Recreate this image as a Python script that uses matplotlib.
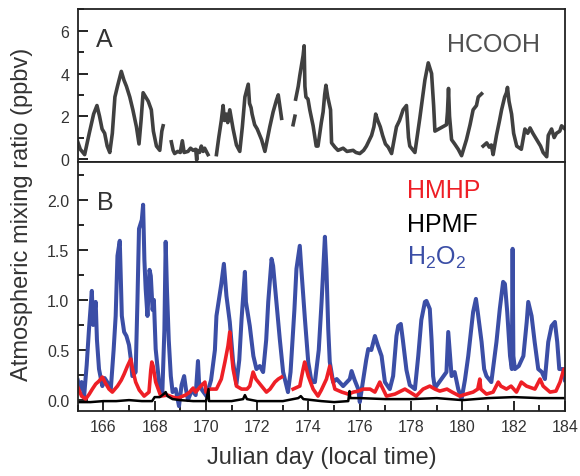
import numpy as np
import matplotlib
matplotlib.use("Agg")
import matplotlib.pyplot as plt
from matplotlib.ticker import MultipleLocator

nan = np.nan

# ---- panel A: HCOOH (ppbv), NaN = data gap ----
hcooh_day = [165.0, 165.1, 165.27, 165.45, 165.62, 165.75, 165.85, 165.95, 166.05, 166.15,
             166.25, 166.35, 166.45, 166.55, 166.7, 166.8, 166.9, 167.03, 167.15, 167.29,
             167.39, 167.47, 167.55, 167.65, 167.75, 167.87, 167.95, 168.07, 168.2, 168.28,
             168.33, nan,
             168.65, 168.72, 168.78, 168.9, 169.0, 169.08, 169.15, 169.3, 169.4, 169.5,
             169.6, 169.64, 169.66, 169.75, 169.82, 169.89, 169.95, 170.08, nan,
             170.41, 170.5, 170.6, 170.67, 170.72, 170.8, 170.85, 170.93, 171.0, 171.06,
             171.19, 171.32, 171.42, 171.52, 171.65, 171.7, 171.76, 171.8, 171.9, 172.0,
             172.17, 172.3, 172.49, 172.62, 172.75, 172.82, 172.9, 172.95, nan,
             173.4, 173.47, nan,
             173.5, 173.6, 173.66, 173.79, 173.83, 173.86, 173.9, 173.98, 174.05, 174.18,
             174.3, 174.37, 174.5, 174.57, 174.63, 174.68, 174.75, 174.86, 174.9, 175.03,
             175.15, 175.35, 175.5, 175.74, 175.85, 176.0, 176.15, 176.26, 176.46, 176.55,
             176.62, 176.7, 176.8, 176.89, 177.0, 177.11, 177.24, 177.43, 177.55, 177.69,
             177.82, 177.9, 177.95, 178.15, 178.34, 178.45, 178.54, 178.67, 178.8, 178.88,
             178.93, 179.38, 179.42, 179.46, 179.5, 179.58, 179.7, 179.84, 179.97, 180.16,
             180.3, 180.42, 180.55, 180.62, 180.75, nan,
             180.81, 180.95, 181.05, 181.13, 181.2, 181.33, 181.45, 181.53, 181.65, 181.72,
             181.76, 181.82, 181.92, 182.0, 182.12, 182.3, 182.44, 182.55, 182.64, 182.75,
             182.9, 183.05, 183.15, 183.29, 183.35, 183.48, 183.58, 183.67, 183.8, 183.87,
             184.0]
hcooh_val = [0.8, 0.45, 0.2, 1.2, 2.1, 2.5, 2.0, 1.4, 1.2, 0.6,
             0.3, 1.2, 2.9, 3.4, 4.1, 3.7, 3.4, 2.9, 2.3, 1.5,
             0.7, 1.8, 3.1, 2.9, 2.7, 2.3, 1.3, 0.6, 0.4, 1.3,
             1.55, nan,
             0.8, 0.4, 0.25, 0.35, 0.3, 0.85, 0.3, 0.35, 0.5, 0.4,
             0.45, -0.05, 0.4, 0.3, 0.6, 0.35, 0.5, 0.2, nan,
             0.2, 1.0, 1.8, 2.5, 1.8, 2.1, 1.7, 2.3, 1.8, 1.4,
             0.65, 0.35, 1.5, 2.9, 3.5, 2.6, 2.4, 2.1, 1.6, 1.4,
             0.9, 0.35, 1.5, 2.2, 2.75, 3.0, 2.3, 1.9, nan,
             1.6, 2.0, nan,
             2.8, 3.4, 3.9, 4.85, 5.3, 3.4, 2.9, 2.8, 2.3, 1.55,
             0.6, 0.6, 1.7, 2.2, 3.0, 3.45, 2.9, 2.3, 0.75, 0.55,
             0.4, 0.5, 0.35, 0.4, 0.3, 0.25, 0.4, 0.6, 1.1, 1.5,
             2.1, 1.8, 1.5, 1.1, 0.7, 0.55, 0.25, 1.5, 1.8, 2.3,
             2.5, 1.0, 0.6, 0.3, 1.9, 2.9, 3.7, 4.5, 4.0, 2.5,
             1.3, 1.6, 2.2, 3.3, 2.0, 0.9, 0.7, 0.45, 0.15, 0.9,
             1.6, 2.3, 2.5, 2.9, 3.05, nan,
             0.6, 0.75, 0.55, 0.65, 0.2, 1.1, 1.8, 2.3, 2.9, 3.1,
             3.35, 2.7, 2.1, 1.2, 0.6, 0.45, 1.4, 1.2, 1.45, 1.2,
             0.9, 0.6, 0.3, 0.1, 1.1, 1.4, 1.0, 1.2, 1.3, 1.55,
             1.4]

# ---- panel B: H2O2 (ppbv) ----
h2o2_day = [165.0, 165.08, 165.15, 165.25, 165.35, 165.44, 165.55, 165.6, 165.7, 165.75,
            165.83, 165.96, 166.05, 166.15, 166.29, 166.4, 166.48, 166.55, 166.64, 166.68,
            166.72, 166.81, 166.9, 167.0, 167.07, 167.13, 167.26, 167.33, 167.39, 167.5,
            167.55, 167.6, 167.65, 167.72, 167.8, 167.85, 167.92, 167.97, 168.04, 168.17,
            168.3, 168.38, 168.43, 168.48, 168.55, 168.63, 168.7, 168.82, 168.95, 169.05,
            169.15, 169.22, 169.3, 169.45, 169.6, 169.69, 169.73, 169.85, 170.02, 170.2,
            170.35, 170.41, 170.6, 170.7, 170.8, 170.93, 171.06, 171.19, 171.3, 171.39,
            171.52, 171.56, 171.71, 171.85, 171.97, 172.1, 172.23, 172.35, 172.43, 172.56,
            172.62, 172.75, 172.88, 173.01, 173.2, 173.3, 173.45, 173.53, 173.66, 173.72,
            173.86, 173.99, 174.12, 174.25, 174.4, 174.51, 174.64, 174.7, 174.77, 174.83,
            174.96, 175.1, 175.35, 175.5, 175.61, 175.68, 175.8, 175.94, 176.0, 176.1,
            176.25, 176.33, 176.45, 176.59, 176.7, 176.85, 176.98, 177.17, 177.3, 177.43,
            177.5, 177.6, 177.68, 177.82, 177.95, 178.15, 178.28, 178.4, 178.54, 178.6,
            178.73, 178.8, 178.86, 178.93, 179.38, 179.45, 179.5, 179.58, 179.7, 179.84,
            179.97, 180.1, 180.23, 180.42, 180.53, 180.6, 180.75, 180.85, 180.94, 181.13,
            181.33, 181.46, 181.59, 181.66, 181.75, 181.86, 181.93, 181.96, 181.99, 182.05,
            182.2, 182.38, 182.51, 182.57, 182.7, 182.82, 182.96, 183.1, 183.22, 183.35,
            183.48, 183.61, 183.7, 183.78, 183.93, 184.0]
h2o2_val = [0.2, 0.12, 0.18, 0.04, 0.35, 0.71, 1.09, 0.75, 0.98, 0.6,
            0.31, 0.14, 0.22, 0.18, 0.11, 0.5, 0.84, 1.44, 1.59, 1.2,
            0.84, 0.68, 0.64, 0.55, 0.41, 0.24, 0.28, 1.0, 1.71, 1.8,
            1.95, 1.4, 1.11, 0.84, 1.3, 1.24, 0.9, 1.0, 0.51, 0.18,
            0.08, 0.7, 1.58, 1.1, 0.6, 0.24, 0.08, 0.11, -0.06, 0.15,
            0.24, 0.11, 0.0, 0.1, 0.05, 0.39, 0.18, 0.1, 0.04, 0.2,
            0.5, 0.84, 1.16, 1.36, 1.04, 0.78, 0.38, 0.16, 0.4, 0.81,
            1.28, 0.98, 0.74, 0.44, 0.31, 0.34, 0.28, 0.6, 0.98, 1.41,
            1.34, 0.98, 0.61, 0.28, 0.08, 0.28, 0.9, 1.31, 1.54, 1.31,
            0.81, 0.38, 0.18, 0.18, 0.5, 0.98, 1.63, 1.31, 0.71, 0.38,
            0.18, 0.21, 0.14, 0.18, 0.21, 0.29, 0.2, 0.11, -0.02, 0.15,
            0.4, 0.51, 0.5, 0.64, 0.55, 0.44, 0.18, 0.11, 0.24, 0.64,
            0.74, 0.76, 0.6, 0.3, 0.15, 0.11, 0.44, 0.8, 0.98, 0.99,
            0.91, 0.6, 0.24, 0.12, 0.28, 0.68, 0.51, 0.24, 0.28, 0.11,
            0.01, 0.2, 0.44, 0.88, 1.01, 0.88, 0.58, 0.31, 0.24, 0.18,
            0.58, 0.91, 1.18, 1.16, 0.88, 0.44, 0.31, 1.51, 0.44, 0.31,
            0.34, 0.44, 0.78, 0.98, 0.84, 0.58, 0.31, 0.28, 0.21, 0.58,
            0.74, 0.78, 0.58, 0.31, 0.31, 0.2]

# ---- panel B: HMHP (ppbv) ----
hmhp_day = [165.0, 165.15, 165.31, 165.45, 165.57, 165.7, 165.83, 165.96, 166.08, 166.22,
            166.35, 166.55, 166.7, 166.81, 166.94, 167.07, 167.13, 167.26, 167.4, 167.59,
            167.78, 167.85, 167.89, 167.94, 168.04, 168.24, 168.5, 168.7, 168.9, 169.0,
            169.2, 169.37, 169.5, 169.6, 169.8, 169.96, 170.0, 170.15, 170.41, 170.6,
            170.74, 170.86, 170.93, 170.98, 171.06, 171.19, 171.39, 171.6, 171.71, 171.84,
            171.95, 172.17, 172.36, 172.5, 172.69, 172.82, 172.95, nan,
            173.4, 173.66, 173.79, 173.85, 173.99, 174.18, 174.37, 174.5, 174.7, 174.83,
            174.9, 175.03, 175.3, 175.55, 175.75, 175.94, 176.13, 176.4, 176.59, 176.78,
            176.85, 177.04, 177.37, 177.76, 177.95, 178.2, 178.47, 178.73, 178.93, 179.12,
            179.4, 179.6, 179.9, 180.15, 180.42, 180.6, 180.68, 180.72, 180.94, 181.2,
            181.4, 181.5, 181.72, 181.9, 182.11, 182.3, 182.5, 182.83, 183.03, 183.15,
            183.42, 183.65, 183.81, 183.96, 184.0]
hmhp_val = [0.13, 0.04, 0.01, 0.06, 0.11, 0.16, 0.19, 0.23, 0.17, 0.11,
            0.08, 0.14, 0.2, 0.26, 0.34, 0.41, 0.32, 0.18, 0.1, 0.04,
            0.08, 0.3, 0.38, 0.34, 0.18, 0.04, 0.05, 0.03, 0.02, 0.03,
            0.05, 0.08, 0.12, 0.08, 0.14, 0.18, 0.08, 0.11, 0.11, 0.21,
            0.38, 0.54, 0.68, 0.51, 0.31, 0.14, 0.11, 0.11, 0.14, 0.28,
            0.21, 0.14, 0.08, 0.11, 0.18, 0.21, 0.23, nan,
            0.11, 0.14, 0.31, 0.38, 0.24, 0.11, 0.04, 0.1, 0.21, 0.34,
            0.24, 0.11, 0.08, 0.06, 0.08, 0.09, 0.11, 0.11, 0.08, 0.18,
            0.14, 0.04, 0.06, 0.11, 0.08, 0.04, 0.11, 0.14, 0.11, 0.09,
            0.11, 0.08, 0.04, 0.06, 0.08, 0.11, 0.21, 0.11, 0.06, 0.08,
            0.18, 0.14, 0.11, 0.14, 0.08, 0.18, 0.14, 0.11, 0.21, 0.14,
            0.08, 0.09, 0.18, 0.31, 0.3]

# ---- panel B: HPMF (ppbv) ----
hpmf_day = [165.0, 165.5, 166.0, 166.5, 167.0, 167.5, 167.9, 168.0, 168.2, 168.35,
            168.43, 168.5, 168.7, 169.0, 169.5, 170.0, 170.1, 170.12, 170.5, 171.0,
            171.45, 171.52, 171.6, 172.0, 173.0, 173.6, 173.7, 173.8, 174.5, 175.0,
            175.55, 175.6, 175.63, 176.0, 177.0, 178.0, 179.0, 180.0, 181.0, 182.0,
            183.0, 184.0]
hpmf_val = [-0.02, -0.02, -0.01, -0.01, 0.0, -0.01, -0.01, 0.03, 0.03, 0.06,
            0.08, 0.04, 0.01, 0.0, -0.01, -0.01, 0.11, -0.01, -0.01, -0.01,
            0.01, 0.05, 0.01, -0.01, -0.01, 0.02, 0.04, 0.01, -0.01, -0.02,
            -0.01, 0.09, 0.02, 0.02, 0.01, 0.01, 0.02, 0.0, 0.02, 0.03,
            0.02, 0.02]

plt.rcParams['font.family'] = ['Liberation Sans', 'DejaVu Sans']
txt = '#333333'

fig = plt.figure(figsize=(5.8, 4.77), dpi=100)
ax_a = fig.add_axes([0.134, 0.659, 0.840, 0.319])
ax_b = fig.add_axes([0.134, 0.136, 0.840, 0.523], sharex=ax_a)

ax_a.plot(hcooh_day, hcooh_val, color='#404040', lw=2.6)
ax_b.plot(h2o2_day, h2o2_val, color='#3b4ea6', lw=2.9)
ax_b.plot(hmhp_day, hmhp_val, color='#ee1f26', lw=2.6)
ax_b.plot(hpmf_day, hpmf_val, color='black', lw=1.8)

ax_a.set_ylim(-0.13, 7.0)
ax_b.set_ylim(-0.11, 2.38)
ax_b.set_xlim(165, 184)

ax_a.yaxis.set_major_locator(MultipleLocator(2))
ax_a.yaxis.set_minor_locator(MultipleLocator(1))
ax_b.yaxis.set_major_locator(MultipleLocator(0.5))
ax_b.yaxis.set_minor_locator(MultipleLocator(0.25))
ax_b.xaxis.set_major_locator(MultipleLocator(2))
ax_b.xaxis.set_minor_locator(MultipleLocator(1))
ax_b.yaxis.set_major_formatter(plt.FormatStrFormatter('%.1f'))

for ax in (ax_a, ax_b):
    ax.tick_params(which='both', direction='in', labelsize=11.5, labelcolor=txt,
                   width=1.2, pad=6, top=False, right=False)
    ax.tick_params(which='major', length=7)
    ax.tick_params(which='minor', length=4)
    for s in ax.spines.values():
        s.set_linewidth(1.3)
        s.set_color('#222222')
ax_a.tick_params(axis='x', which='both', bottom=False, labelbottom=False)

ax_a.text(0.038, 0.763, 'A', transform=ax_a.transAxes, fontsize=18, color=txt)
ax_a.text(0.949, 0.730, 'HCOOH', transform=ax_a.transAxes, fontsize=18,
          color='#505050', ha='right')
ax_b.text(0.040, 0.81, 'B', transform=ax_b.transAxes, fontsize=18, color=txt)
ax_b.text(0.676, 0.858, 'HMHP', transform=ax_b.transAxes, fontsize=18, color='#ee1f26')
ax_b.text(0.676, 0.722, 'HPMF', transform=ax_b.transAxes, fontsize=18, color='black')
ax_b.text(0.676, 0.590, r'H$_\mathregular{2}$O$_\mathregular{2}$', transform=ax_b.transAxes,
          fontsize=18, color='#3b4ea6')

ax_b.set_xlabel('Julian day (local time)', fontsize=17, color=txt, labelpad=8)
fig.text(0.038, 0.55, 'Atmospheric mixing ratio (ppbv)', rotation=90, fontsize=17,
         color=txt, ha='center', va='center')

fig.savefig('out.png', dpi=100)
